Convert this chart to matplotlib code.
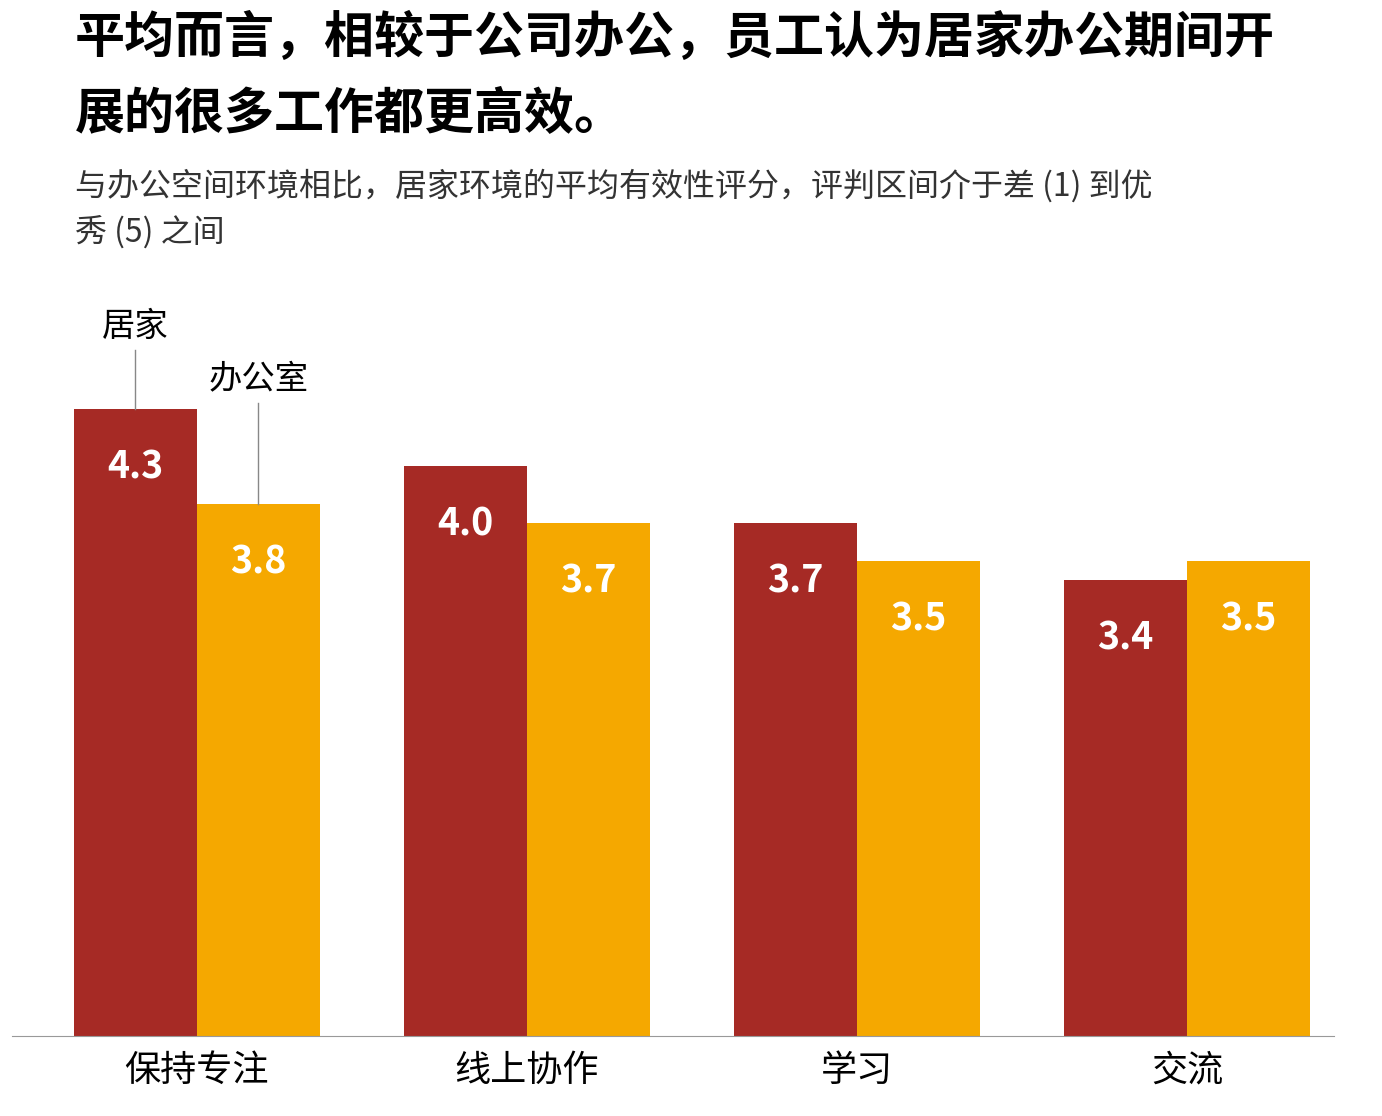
import matplotlib
matplotlib.use("Agg")
import matplotlib.pyplot as plt
import numpy as np

plt.rcParams['font.family'] = ['Noto Sans CJK SC', 'DejaVu Sans']

categories = ["保持专注", "线上协作", "学习", "交流"]
home = [4.3, 4.0, 3.7, 3.4]
office = [3.8, 3.7, 3.5, 3.5]
series_names = ["居家", "办公室"]
red, yellow = "#A62A25", "#F5A800"

W, H = 1382, 1116
fig = plt.figure(figsize=(W/100, H/100), dpi=100)
ax = fig.add_axes([12/W, 1-1036/H, (1334-12)/W, (1036-300)/H])
x = np.arange(len(categories))
w = 0.373
ax.bar(x - w/2, home, w, bottom=0, color=red)
ax.bar(x + w/2, office, w, bottom=0, color=yellow)
ax.set_xlim(-0.56, 3.445)
ax.set_ylim(1, 1 + (1036-300)/190)
for i in range(len(categories)):
    for xv, v in ((x[i]-w/2, home[i]), (x[i]+w/2, office[i])):
        ax.annotate(f"{v:.1f}", (xv, v), xytext=(0, -42), textcoords="offset points",
                    ha="center", va="center", color="white", fontsize=27, fontweight="bold")
for s in ["top", "right", "left"]:
    ax.spines[s].set_visible(False)
ax.spines["bottom"].set_color("#999999")
ax.set_yticks([])
ax.set_xticks(x)
ax.set_xticklabels(categories, fontsize=26)
ax.tick_params(axis="x", length=0, pad=12)

# legend callouts
ax.plot([x[0]-w/2]*2, [home[0], home[0]+0.31], color="#888888", lw=1, clip_on=False)
ax.text(x[0]-w/2, home[0]+0.34, series_names[0], ha="center", va="bottom", fontsize=24)
ax.plot([x[0]+w/2]*2, [office[0], office[0]+0.53], color="#888888", lw=1, clip_on=False)
ax.text(x[0]+w/2, office[0]+0.56, series_names[1], ha="center", va="bottom", fontsize=24)

fig.text(75/W, 1-38/H, "平均而言，相较于公司办公，员工认为居家办公期间开", fontsize=36,
         fontweight="bold", va="center")
fig.text(75/W, 1-115/H, "展的很多工作都更高效。", fontsize=36, fontweight="bold", va="center")
fig.text(75/W, 1-186/H, "与办公空间环境相比，居家环境的平均有效性评分，评判区间介于差 (1) 到优",
         fontsize=23, va="center", color="#333333")
fig.text(75/W, 1-232/H, "秀 (5) 之间", fontsize=23, va="center", color="#333333")
fig.savefig("out.png", dpi=100)
